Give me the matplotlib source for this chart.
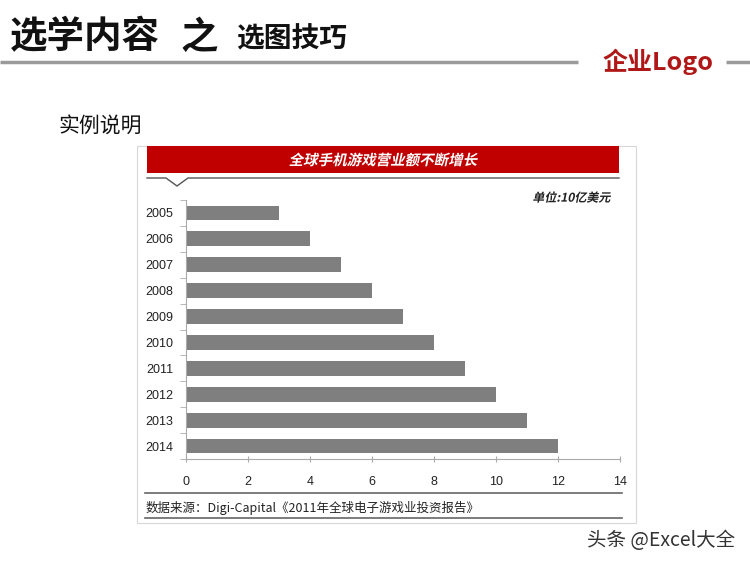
import matplotlib
matplotlib.use("Agg")
import matplotlib.pyplot as plt
from matplotlib.patches import Rectangle, PathPatch
from matplotlib.textpath import TextPath
from matplotlib.font_manager import FontProperties
from matplotlib.transforms import Affine2D

plt.rcParams['font.family'] = ['Noto Sans CJK SC', 'DejaVu Sans']

years = ['2005', '2006', '2007', '2008', '2009', '2010', '2011', '2012', '2013', '2014']
revenue = [3, 4, 5, 6, 7, 8, 9, 10, 11, 12]
xticks = [0, 2, 4, 6, 8, 10, 12, 14]

W, H = 750, 562
fig = plt.figure(figsize=(W / 100, H / 100), dpi=100)
fig.patch.set_facecolor('white')

# background layer in pixel coordinates (y downward)
bg = fig.add_axes([0, 0, 1, 1], zorder=0)
bg.set_xlim(0, W)
bg.set_ylim(H, 0)
bg.axis('off')


def slanted(x, y, s, size, color, ha='center'):
    # bold text with a fake italic shear
    fp = FontProperties(family='Noto Sans CJK SC', weight='bold')
    tp = TextPath((0, 0), s, size=size, prop=fp)
    bb = tp.get_extents()
    ox = bb.x0 + bb.width / 2 if ha == 'center' else bb.x1
    oy = bb.y0 + bb.height / 2
    tr = Affine2D().translate(-ox, -oy).skew_deg(12, 0).scale(1, -1).translate(x, y) + bg.transData
    bg.add_patch(PathPatch(tp, transform=tr, fc=color, ec='none'))


# slide header
bg.text(10, 37, '选学内容', fontsize=27, fontweight='bold', color='#111111', va='center', ha='left')
bg.text(180, 37, '之', fontsize=27, fontweight='bold', color='#111111', va='center', ha='left')
bg.text(236, 39, '选图技巧', fontsize=20, fontweight='bold', color='#111111', va='center', ha='left')
bg.plot([0, 578], [62, 62], color='#9a9a9a', lw=2.5, solid_capstyle='butt')
bg.plot([726, 750], [62, 62], color='#9a9a9a', lw=2.5, solid_capstyle='butt')
bg.text(658, 62, '企业Logo', fontsize=18, fontweight='bold', color='#b01818', va='center', ha='center')
bg.text(58, 126, '实例说明', fontsize=15, color='#111111', va='center', ha='left')

# chart frame
bg.add_patch(Rectangle((137, 146), 499, 377, fill=False, ec='#d8d8d8', lw=0.8))
bg.add_patch(Rectangle((147, 146), 472, 27, fc='#c00000', ec='none'))
slanted(384, 159.5, '全球手机游戏营业额不断增长', 14.5, 'white')
bg.plot([147, 166, 177, 188, 619], [178, 178, 186, 178, 178], color='#555555', lw=1.0)
slanted(611, 197, '单位:10亿美元', 12, '#222222', ha='right')

# source lines
bg.plot([145, 622], [493, 493], color='#666666', lw=1.2)
bg.plot([145, 622], [518, 518], color='#666666', lw=1.2)
bg.text(146, 508, '数据来源：Digi-Capital《2011年全球电子游戏业投资报告》', fontsize=9,
        color='#222222', va='center', ha='left')

bg.text(735, 541, '头条 @Excel大全', fontsize=14, color='#333333', va='center', ha='right')

# bar chart
ax = fig.add_axes([186 / W, 1 - 459 / H, 434 / W, 259 / H], zorder=1)
ax.patch.set_alpha(0)
pos = list(range(len(years)))
ax.barh(pos, revenue, height=0.57, color='#7f7f7f')
ax.set_ylim(len(years) - 0.5, -0.5)
ax.set_xlim(0, 14)
ax.set_yticks(pos)
ax.set_yticklabels(years, family='Liberation Sans')
ax.set_yticks([p - 0.5 for p in pos] + [len(years) - 0.5], minor=True)
ax.set_xticks(xticks)
ax.set_xticklabels([str(v) for v in xticks], family='Liberation Sans')
ax.tick_params(axis='y', which='major', length=0, pad=9, labelsize=9, labelcolor='#222222')
ax.tick_params(axis='y', which='minor', length=4, color='#aaaaaa', direction='out')
ax.tick_params(axis='x', length=4, direction='inout', color='#aaaaaa', pad=10,
               labelsize=9, labelcolor='#222222')
for s in ['top', 'right']:
    ax.spines[s].set_visible(False)
for s in ['left', 'bottom']:
    ax.spines[s].set_color('#aaaaaa')
    ax.spines[s].set_linewidth(0.8)

fig.savefig('out.png', dpi=100)
